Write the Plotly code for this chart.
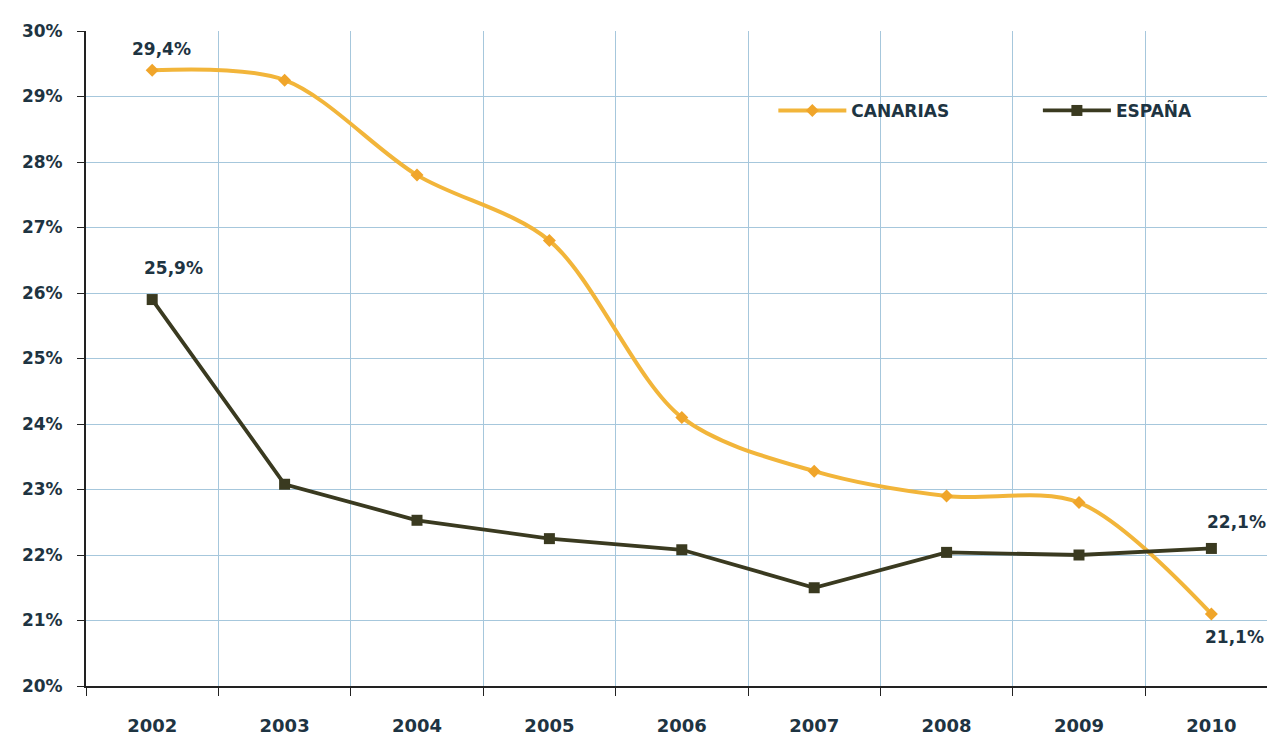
import plotly.graph_objects as go

years = ["2002", "2003", "2004", "2005", "2006", "2007", "2008", "2009", "2010"]
canarias = [29.4, 29.25, 27.8, 26.8, 24.1, 23.28, 22.9, 22.8, 21.1]
espana = [25.9, 23.08, 22.53, 22.25, 22.08, 21.5, 22.04, 22.0, 22.1]
y_ticks = [20, 21, 22, 23, 24, 25, 26, 27, 28, 29, 30]
y_tick_text = [f"{v}%" for v in y_ticks]

text_color = "#1E3442"
font_family = "DejaVu Sans, sans-serif"

def fmt(v):
    return f"{v:.1f}".replace(".", ",") + "%"

fig = go.Figure()
fig.add_trace(go.Scatter(
    x=years, y=canarias, name="CANARIAS", legend="legend",
    mode="lines+markers",
    line=dict(color="#F2B53A", width=4, shape="spline", smoothing=0.9),
    marker=dict(symbol="diamond", size=10, color="#F0A52A"),
))
fig.add_trace(go.Scatter(
    x=years, y=espana, name="ESPAÑA", legend="legend2",
    mode="lines+markers",
    line=dict(color="#3A3A20", width=3.8),
    marker=dict(symbol="square", size=11, color="#3A3A20"),
))

label_font = dict(size=17, color=text_color, family=font_family, weight="bold")
last = len(years) - 1
annots = [
    (0, canarias[0], 9, 21),
    (0, espana[0], 21, 32),
    (last, espana[last], 25, 26),
    (last, canarias[last], 23, -23),
]
for xi, y, xs, ys in annots:
    fig.add_annotation(x=xi, y=y, xref="x", yref="y", text=fmt(y), showarrow=False,
                       xshift=xs, yshift=ys, font=label_font)

legend_common = dict(
    orientation="h", yanchor="middle", xanchor="left", y=0.878,
    bgcolor="rgba(0,0,0,0)", itemwidth=68,
    font=dict(size=17, color=text_color, family=font_family, weight="bold"),
)

fig.update_layout(
    width=1267, height=740,
    margin=dict(l=86, r=0, t=31, b=54, autoexpand=False),
    paper_bgcolor="white", plot_bgcolor="white",
    font=dict(family=font_family, size=17, color=text_color),
    showlegend=True,
    legend=dict(x=0.582, **legend_common),
    legend2=dict(x=0.806, **legend_common),
    xaxis=dict(
        type="category", range=[-0.5, 8.42],
        tickson="boundaries", ticks="outside", ticklen=8, tickcolor="#222",
        showgrid=True, gridcolor="#A6C7DC", gridwidth=1,
        showline=True, linecolor="#222", linewidth=2,
        tickfont=dict(size=18, color=text_color, family=font_family, weight="bold"),
        ticklabelstandoff=22,
        fixedrange=True,
    ),
    yaxis=dict(
        range=[20, 30], tickvals=y_ticks, ticktext=y_tick_text,
        ticks="outside", ticklen=7, tickcolor="#222",
        showgrid=True, gridcolor="#A6C7DC", gridwidth=1,
        showline=True, linecolor="#222", linewidth=2,
        zeroline=False,
        tickfont=dict(size=17, color=text_color, family=font_family, weight="bold"),
        ticklabelstandoff=11,
    ),
)

fig.write_html(
    "out.html",
    config={"displayModeBar": False},
    post_script="document.body.style.margin='0';document.body.style.overflow='hidden';",
)
